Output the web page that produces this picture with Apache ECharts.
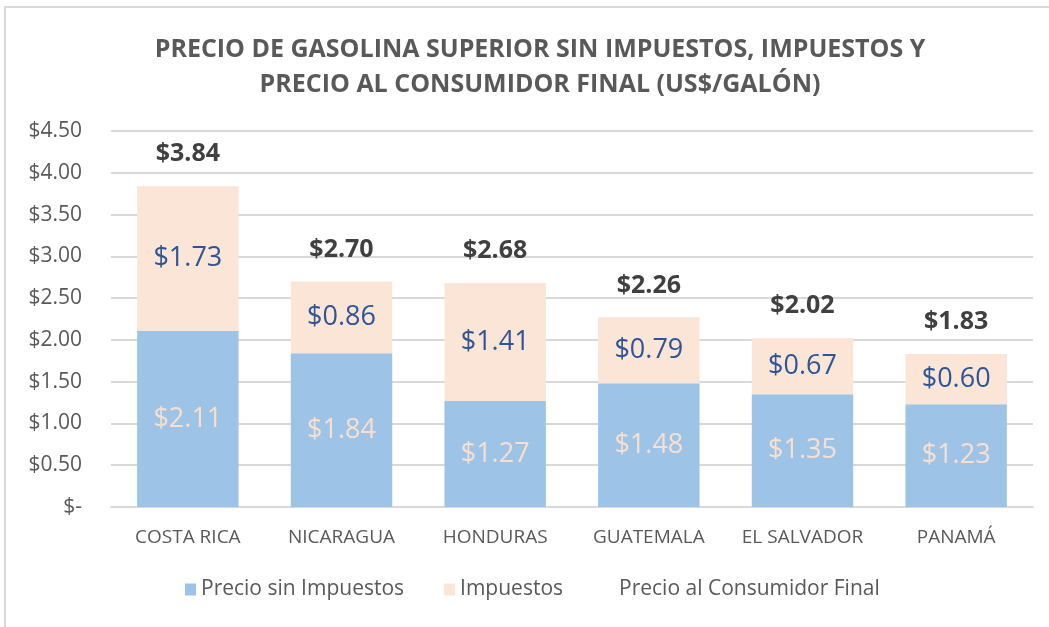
<!DOCTYPE html>
<html>
<head>
<meta charset="utf-8">
<script src="https://cdn.jsdelivr.net/npm/echarts@6/dist/echarts.min.js"></script>
<style>
  html, body { margin: 0; padding: 0; background: #fff; }
  #chart { width: 1049px; height: 627px; }
  #frame { position: absolute; left: 4px; top: 6px; width: 1100px; height: 700px;
           border-left: 2px solid #d9d9d9; border-top: 2px solid #d9d9d9; pointer-events: none; }
</style>
</head>
<body>
<div id="chart"></div>
<div id="frame"></div>
<script>
// ---- 数据 ----
const countries = ["COSTA RICA", "NICARAGUA", "HONDURAS", "GUATEMALA", "EL SALVADOR", "PANAMÁ"];
const sinImpuestos = [2.11, 1.84, 1.27, 1.48, 1.35, 1.23];
const impuestos = [1.73, 0.86, 1.41, 0.79, 0.67, 0.60];
const precioFinal = [3.84, 2.70, 2.68, 2.26, 2.02, 1.83];

const FONT = "'Open Sans', 'Liberation Sans', sans-serif";

function money(v) {
  return v === 0 ? "$-" : "$" + Number(v).toFixed(2);
}

const chart = echarts.init(document.getElementById("chart"));
chart.setOption({
  animation: false,
  textStyle: { fontFamily: FONT },
  title: {
    text: "PRECIO DE GASOLINA SUPERIOR SIN IMPUESTOS, IMPUESTOS Y\nPRECIO AL CONSUMIDOR FINAL (US$/GALÓN)",
    left: 535, top: 27, textAlign: "center",
    textStyle: { fontFamily: FONT, fontSize: 25, fontWeight: "bold", color: "#595959", lineHeight: 35 },
  },
  grid: { left: 111, right: 16, top: 131, bottom: 120, containLabel: false },
  legend: {
    bottom: 22, left: 535 - 355, itemGap: 40, itemWidth: 11, itemHeight: 12,
    textStyle: { fontFamily: FONT, fontSize: 21, color: "#595959" },
    data: [
      { name: "Precio sin Impuestos", icon: "rect" },
      { name: "Impuestos", icon: "rect" },
      { name: "Precio al Consumidor Final", icon: "rect", itemStyle: { opacity: 0 } },
    ],
  },
  xAxis: {
    type: "category", data: countries,
    axisTick: { show: false },
    axisLine: { lineStyle: { color: "#d9d9d9", width: 2 } },
    axisLabel: { fontFamily: FONT, fontSize: 19, color: "#595959", margin: 21, interval: 0 },
  },
  yAxis: {
    type: "value", min: 0, max: 4.5, interval: 0.5,
    axisLine: { show: false }, axisTick: { show: false },
    splitLine: { lineStyle: { color: "#d9d9d9", width: 2 } },
    axisLabel: { fontFamily: FONT, fontSize: 21, color: "#595959", margin: 29, formatter: money },
  },
  series: [
    {
      name: "Precio sin Impuestos", type: "bar", stack: "p", data: sinImpuestos,
      barCategoryGap: "34%",
      itemStyle: { color: "#9dc3e6" },
      label: { show: true, position: "inside", fontSize: 27, color: "#f8dfd0", formatter: p => money(p.value) },
    },
    {
      name: "Impuestos", type: "bar", stack: "p", data: impuestos,
      itemStyle: { color: "#fbe5d6" },
      label: { show: true, position: "inside", fontSize: 27, color: "#2f5597", formatter: p => money(p.value) },
    },
    {
      name: "Precio al Consumidor Final", type: "line", data: precioFinal,
      symbol: "circle", symbolSize: 1, showSymbol: true,
      lineStyle: { width: 0, color: "rgba(0,0,0,0)" },
      itemStyle: { color: "rgba(0,0,0,0)", borderWidth: 0 },
      label: { show: true, position: "top", distance: 19, fontSize: 25, fontWeight: "bold", color: "#404040",
               formatter: p => money(p.value) },
    },
  ],
});
</script>
</body>
</html>
